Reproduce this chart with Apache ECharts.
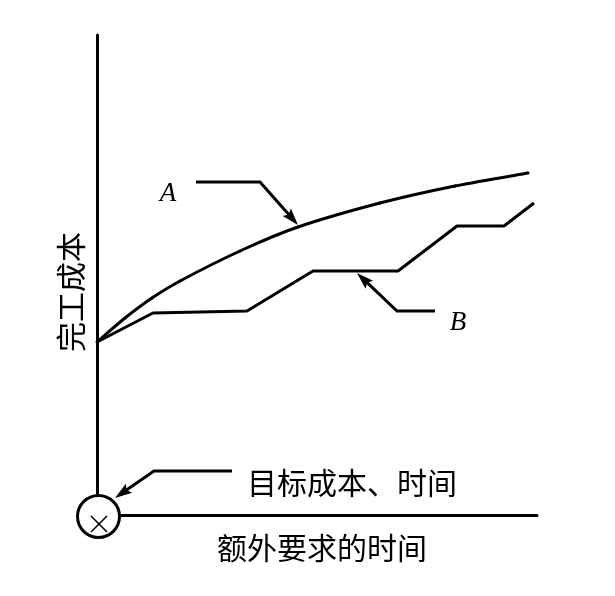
<!DOCTYPE html>
<html>
<head>
<meta charset="utf-8">
<script src="https://cdn.jsdelivr.net/npm/echarts@6/dist/echarts.min.js"></script>
<style>
  html, body { margin: 0; padding: 0; background: #fff; }
  #chart { width: 615px; height: 596px; }
</style>
</head>
<body>
<div id="chart"></div>
<script>
// Completion cost vs. extra time requested (schematic)
const xTitle = '额外要求的时间';
const yTitle = '完工成本';
const originLabel = '目标成本、时间';
const curveNames = ['A', 'B'];

// Curve A: smooth cost growth
const curveA = [
  [0, 17.3], [2.8, 19.7], [5.5, 21.7], [8.3, 23.4], [14.3, 26.4],
  [20.1, 28.8], [28.3, 31.2], [35.8, 32.9], [43.1, 34.2]
];
// Curve B: stepwise cost growth
const curveB = [
  [0, 17.3], [5.6, 20.2], [15.0, 20.4], [21.6, 24.4], [30.1, 24.4],
  [36.0, 28.9], [40.7, 28.9], [43.7, 31.2]
];
// Leader arrows (polyline, arrowhead at the last point)
const arrowA = [[9.9, 33.3], [16.3, 33.3], [20.1, 29.0]];
const arrowB = [[33.8, 20.4], [30.0, 20.4], [26.0, 24.2]];
const arrowOrigin = [[13.5, 4.4], [5.7, 4.4], [1.8, 1.7]];
const arrows = [arrowA, arrowB, arrowOrigin];

const chart = echarts.init(document.getElementById('chart'));
const ink = '#000';
const cjk = '"Noto Sans CJK SC", sans-serif';

// curve A drawn as a Catmull-Rom spline: item i draws the piece from point i to i+1
function renderSpline(params, api) {
  const i = params.dataIndex;
  const n = curveA.length;
  if (i >= n - 1) return null;
  const P = function (k) { return api.coord(curveA[Math.max(0, Math.min(n - 1, k))]); };
  const p0 = P(i - 1), p1 = P(i), p2 = P(i + 1), p3 = P(i + 2);
  return {
    type: 'bezierCurve',
    shape: {
      x1: p1[0], y1: p1[1], x2: p2[0], y2: p2[1],
      cpx1: p1[0] + (p2[0] - p0[0]) / 6, cpy1: p1[1] + (p2[1] - p0[1]) / 6,
      cpx2: p2[0] - (p3[0] - p1[0]) / 6, cpy2: p2[1] - (p3[1] - p1[1]) / 6
    },
    style: { stroke: ink, lineWidth: 3, fill: null, lineCap: 'round' }
  };
}

// leader line with a filled, slender arrowhead at its last point
function renderLeader(params, api) {
  const pts = arrows[params.dataIndex].map(function (p) { return api.coord(p); });
  const tip = pts[pts.length - 1];
  const prev = pts[pts.length - 2];
  const dx = tip[0] - prev[0], dy = tip[1] - prev[1];
  const len = Math.sqrt(dx * dx + dy * dy);
  const ux = dx / len, uy = dy / len;
  const headLen = 17, halfW = 5.5;
  const base = [tip[0] - ux * headLen, tip[1] - uy * headLen];
  const linePts = pts.slice(0, -1).concat([[tip[0] - ux * (headLen - 3), tip[1] - uy * (headLen - 3)]]);
  return {
    type: 'group',
    children: [
      {
        type: 'polyline', shape: { points: linePts },
        style: { stroke: ink, lineWidth: 3, fill: null, lineJoin: 'miter' }
      },
      {
        type: 'polygon',
        shape: {
          points: [
            tip,
            [base[0] - uy * halfW, base[1] + ux * halfW],
            [base[0] + ux * 3, base[1] + uy * 3],
            [base[0] + uy * halfW, base[1] - ux * halfW]
          ]
        },
        style: { fill: ink, stroke: null }
      }
    ]
  };
}

chart.setOption({
  animation: false,
  backgroundColor: '#fff',
  grid: { left: 97, top: 35, width: 440, height: 480, containLabel: false },
  xAxis: {
    type: 'value', min: 0, max: 44,
    axisLine: { show: true, lineStyle: { color: ink, width: 3 } },
    axisTick: { show: false }, axisLabel: { show: false }, splitLine: { show: false }
  },
  yAxis: {
    type: 'value', min: 0, max: 48,
    axisLine: { show: true, lineStyle: { color: ink, width: 3 } },
    axisTick: { show: false }, axisLabel: { show: false }, splitLine: { show: false }
  },
  series: [
    {
      name: curveNames[0], type: 'custom', coordinateSystem: 'cartesian2d',
      data: curveA, renderItem: renderSpline, silent: true
    },
    {
      name: curveNames[1], type: 'line', data: curveB,
      showSymbol: false, lineStyle: { color: ink, width: 3 }
    },
    {
      type: 'custom', coordinateSystem: 'cartesian2d',
      data: arrows.map(function (a, i) { return [a[a.length - 1][0], a[a.length - 1][1], i]; }),
      renderItem: renderLeader, z: 5, silent: true
    }
  ],
  graphic: [
    // origin marker
    {
      type: 'circle', shape: { cx: 98.5, cy: 516.5, r: 21 },
      style: { fill: '#fff', stroke: ink, lineWidth: 3 }, z: 100
    },
    {
      type: 'line', shape: { x1: 91, y1: 516, x2: 107, y2: 532 },
      style: { stroke: ink, lineWidth: 1.6 }, z: 101
    },
    {
      type: 'line', shape: { x1: 107, y1: 516, x2: 91, y2: 532 },
      style: { stroke: ink, lineWidth: 1.6 }, z: 101
    },
    {
      type: 'text', x: 322, y: 548, z: 100,
      style: { text: xTitle, font: '30px ' + cjk, fill: ink, align: 'center', verticalAlign: 'middle' }
    },
    {
      type: 'text', x: 71, y: 292, rotation: Math.PI / 2, z: 100,
      style: { text: yTitle, font: '30px ' + cjk, fill: ink, align: 'center', verticalAlign: 'middle' }
    },
    {
      type: 'text', x: 247, y: 483, z: 100,
      style: { text: originLabel, font: '30px ' + cjk, fill: ink, align: 'left', verticalAlign: 'middle' }
    },
    {
      type: 'text', x: 168, y: 194, z: 100,
      style: { text: curveNames[0], font: 'italic 27px "Liberation Serif", serif', fill: ink, align: 'center', verticalAlign: 'middle' }
    },
    {
      type: 'text', x: 458, y: 323, z: 100,
      style: { text: curveNames[1], font: 'italic 27px "Liberation Serif", serif', fill: ink, align: 'center', verticalAlign: 'middle' }
    }
  ]
});
</script>
</body>
</html>
